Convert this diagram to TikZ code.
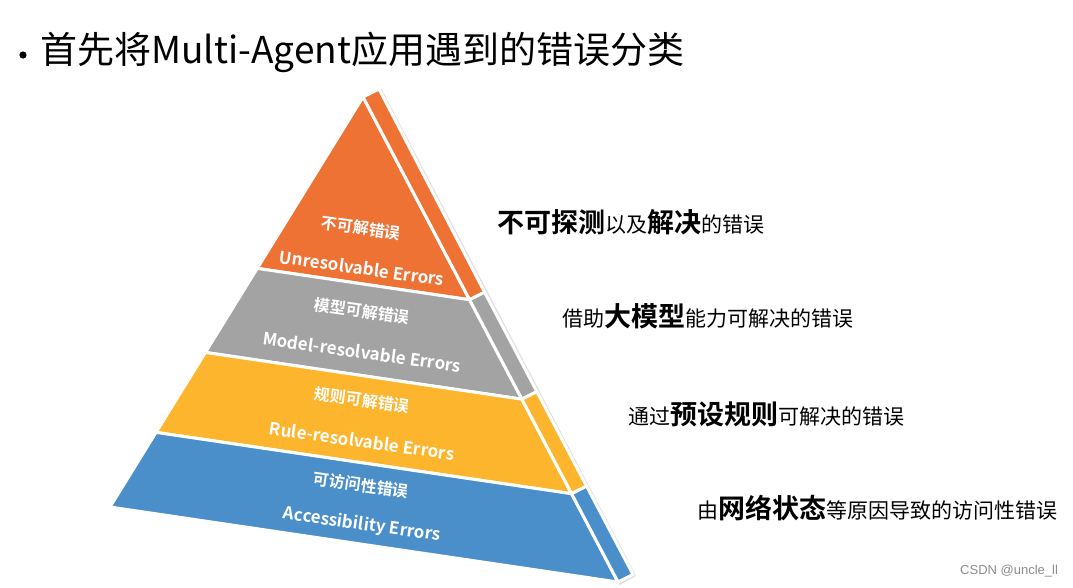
\documentclass[tikz,border=0pt]{standalone}
\usepackage{fontspec}
\setmainfont{Noto Sans CJK SC}[BoldFont={Noto Sans CJK SC Bold}]
\newfontfamily\wmfont{Liberation Sans}
\usetikzlibrary{calc}
\definecolor{corange}{HTML}{EE7233}
\definecolor{cgray}{HTML}{A3A3A3}
\definecolor{cyellow}{HTML}{FDB52D}
\definecolor{cblue}{HTML}{4A8FCA}
\newcommand\Bk[1]{{\bfseries\fontsize{27}{29}\selectfont #1}}
\begin{document}
\begin{tikzpicture}[x=1pt,y=-1pt,
  layer/.style={draw=white,line width=3pt,line join=round},
  pcn/.style={text=white,font=\bfseries\fontsize{16}{18}\selectfont,rotate=-8,inner sep=0pt},
  pen/.style={text=white,font=\bfseries\fontsize{17}{19}\selectfont,rotate=-8,inner sep=0pt},
  desc/.style={anchor=west,inner sep=0pt,text=black,font=\fontsize{21}{25}\selectfont}]
\useasboundingbox (0,0) rectangle (1073,587);
\fill[white] (0,0) rectangle (1073,587);
% geometry
\coordinate (A) at (363,97);
\coordinate (L) at (110,507);
\coordinate (R) at (618,582);
\coordinate (L1) at ($(A)!0.418!(L)$);
\coordinate (L2) at ($(A)!0.623!(L)$);
\coordinate (L3) at ($(A)!0.818!(L)$);
\coordinate (R1) at ($(A)!0.418!(R)$);
\coordinate (R2) at ($(A)!0.623!(R)$);
\coordinate (R3) at ($(A)!0.818!(R)$);
\coordinate (B0) at ($(A)+(16,-8)$);
\coordinate (B1) at ($(R1)+(15,-7.5)$);
\coordinate (B2) at ($(R2)+(15,-7.5)$);
\coordinate (B3) at ($(R3)+(15,-7.5)$);
\coordinate (B4) at ($(R)+(15,-7.5)$);
% faint shadow
\draw[black!12,line width=2.5pt,line join=round] ($(B0)+(1.5,0.5)$) -- ($(B4)+(1.5,1)$) -- ($(R)+(0.5,2)$);
% front layers
\filldraw[layer,fill=corange] (A) -- (R1) -- (L1) -- cycle;
\filldraw[layer,fill=cgray] (L1) -- (R1) -- (R2) -- (L2) -- cycle;
\filldraw[layer,fill=cyellow] (L2) -- (R2) -- (R3) -- (L3) -- cycle;
\filldraw[layer,fill=cblue] (L3) -- (R3) -- (R) -- (L) -- cycle;
% side layers
\filldraw[layer,fill=corange] (A) -- (B0) -- (B1) -- (R1) -- cycle;
\filldraw[layer,fill=cgray] (R1) -- (B1) -- (B2) -- (R2) -- cycle;
\filldraw[layer,fill=cyellow] (R2) -- (B2) -- (B3) -- (R3) -- cycle;
\filldraw[layer,fill=cblue] (R3) -- (B3) -- (B4) -- (R) -- cycle;
% layer labels
\node[pcn] (c1) at (361,228) {不可解错误};
\node[pen] (e1) at (362,268) {Unresolvable Errors};
\node[pcn] (c2) at (362,311) {模型可解错误};
\node[pen] (e2) at (362,352) {Model-resolvable Errors};
\node[pcn] (c3) at (362,400) {规则可解错误};
\node[pen] (e3) at (362,441) {Rule-resolvable Errors};
\node[pcn] (c4) at (361,485) {可访问性错误};
\node[pen] (e4) at (362,525) {Accessibility Errors};
% title
\fill[black] (23,55) circle (3.6) coordinate (bul);
\node[anchor=west,inner sep=0pt,font=\fontsize{37}{42}\selectfont] (title) at (40,52) {首先将Multi-Agent应用遇到的错误分类};
% descriptions
\node[desc] (d1) at (497,222) {\Bk{不可探测}以及\Bk{解决}的错误};
\node[desc] (d2) at (562,316) {借助\Bk{大模型}能力可解决的错误};
\node[desc] (d3) at (628,414) {通过\Bk{预设规则}可解决的错误};
\node[desc] (d4) at (697,508) {由\Bk{网络状态}等原因导致的访问性错误};
% watermark
\node[anchor=west,inner sep=0pt,text=black!45,font=\wmfont\fontsize{13}{15}\selectfont] (wm) at (960,571) {CSDN @uncle\_ll};
\end{tikzpicture}
\end{document}
